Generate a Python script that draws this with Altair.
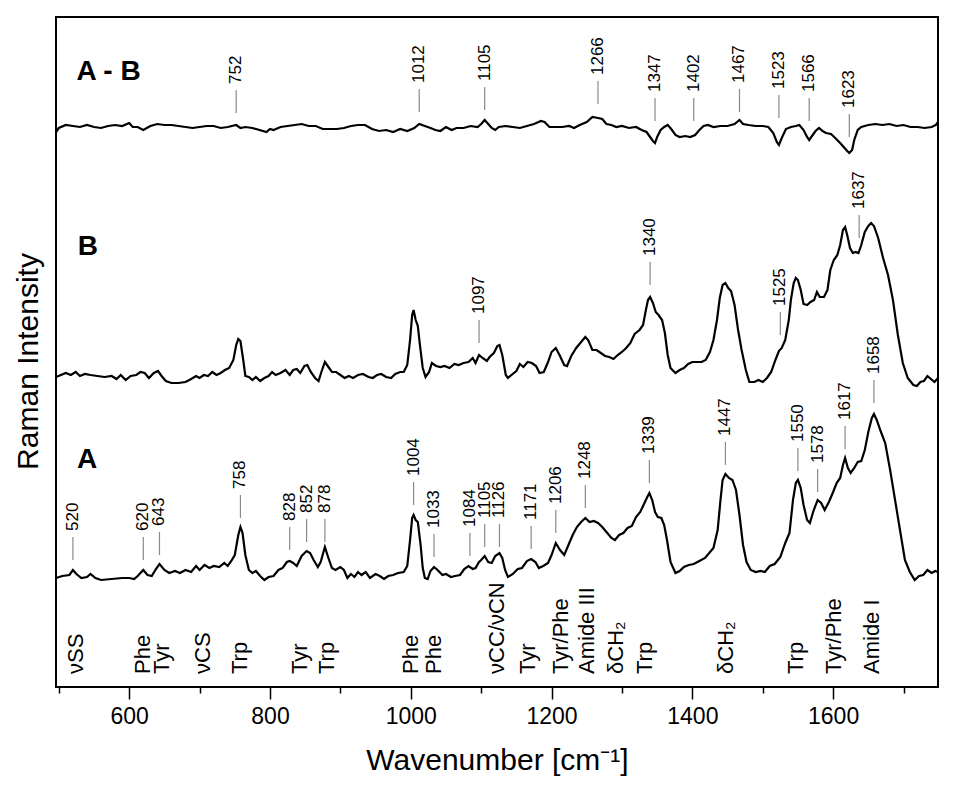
import altair as alt
import pandas as pd

# ---- spectra: (wavenumber cm-1, intensity above the trace's own baseline, a.u.) ----
spec_A = [
    (496, -1), (505, 1), (515, 2), (520, 7), (525, 3), (532, -1), (540, 0), (545, 3), (552, -1),
    (560, -3), (575, -2), (590, -1), (600, -1), (607, -2), (612, 1), (620, 7), (626, 2), (632, 1),
    (638, 8), (643, 13), (650, 7), (657, 4), (665, 6), (672, 4), (680, 7), (688, 5), (695, 11),
    (700, 7), (707, 12), (714, 9), (720, 11), (728, 10), (735, 14), (740, 11), (745, 16), (750, 22),
    (755, 42), (758, 50), (761, 44), (765, 22), (770, 7), (775, 4), (780, 6), (786, 1), (792, -3),
    (798, 0), (805, 1), (812, 7), (818, 9), (824, 15), (828, 16), (833, 14), (838, 11), (845, 21),
    (852, 26), (857, 24), (862, 17), (868, 10), (872, 15), (878, 30), (883, 19), (888, 9), (893, 7),
    (900, 10), (905, 7), (910, -1), (915, 3), (920, 0), (925, 5), (930, 2), (936, 5), (942, -1),
    (950, 3), (956, 1), (962, -2), (968, 1), (975, 2), (982, 4), (990, 5), (995, 11), (999, 37),
    (1002, 59), (1004, 62), (1007, 57), (1010, 55), (1014, 32), (1017, 9), (1020, -1), (1024, -2),
    (1028, 6), (1033, 10), (1038, 7), (1045, 2), (1050, 3), (1057, 0), (1063, 1), (1070, 2),
    (1076, 8), (1082, 11), (1088, 8), (1092, 9), (1097, 15), (1100, 17), (1105, 21), (1110, 15),
    (1115, 14), (1120, 21), (1126, 24), (1130, 19), (1134, 7), (1138, 0), (1145, 3), (1152, 8),
    (1158, 9), (1165, 16), (1171, 18), (1177, 15), (1182, 9), (1188, 11), (1195, 14), (1200, 22),
    (1206, 34), (1212, 27), (1218, 22), (1224, 32), (1230, 42), (1236, 50), (1242, 55), (1248, 59),
    (1254, 55), (1260, 56), (1266, 54), (1272, 50), (1278, 45), (1285, 39), (1290, 37), (1296, 42),
    (1302, 44), (1308, 49), (1314, 51), (1320, 60), (1326, 65), (1332, 74), (1336, 80), (1339, 84),
    (1343, 77), (1347, 65), (1351, 60), (1356, 59), (1360, 52), (1364, 37), (1369, 15), (1376, 4),
    (1382, 6), (1388, 10), (1395, 12), (1402, 13), (1410, 16), (1418, 19), (1424, 24), (1430, 29),
    (1436, 47), (1440, 77), (1443, 97), (1447, 103), (1452, 99), (1457, 97), (1462, 87), (1467, 62),
    (1472, 32), (1477, 15), (1483, 7), (1490, 5), (1497, 6), (1503, 5), (1510, 11), (1517, 13),
    (1525, 20), (1532, 34), (1538, 44), (1543, 77), (1547, 94), (1550, 97), (1554, 89), (1558, 72),
    (1563, 57), (1567, 54), (1572, 66), (1578, 77), (1583, 74), (1588, 67), (1594, 75), (1600, 85),
    (1605, 94), (1610, 99), (1614, 112), (1617, 119), (1621, 109), (1625, 104), (1630, 109),
    (1635, 115), (1640, 116), (1645, 127), (1650, 145), (1655, 159), (1658, 163), (1662, 157),
    (1668, 145), (1674, 134), (1681, 107), (1688, 77), (1695, 47), (1702, 17), (1709, 5), (1716, -3),
    (1722, 1), (1728, 2), (1734, 7), (1740, 4), (1745, 6), (1749, 5),
]

spec_B = [
    (496, 0), (503, 2), (510, 4), (517, 2), (524, 5), (530, 1), (537, 3), (545, 2), (555, 1),
    (565, 0), (575, 1), (582, -2), (588, 2), (595, -3), (602, 1), (610, 2), (616, 5), (622, 4),
    (628, -1), (635, 4), (641, 6), (646, 1), (652, -4), (660, -6), (670, -6), (680, -5), (688, -2),
    (695, 1), (700, -1), (706, 2), (712, 1), (718, 5), (724, 2), (730, 4), (736, 7), (742, 9),
    (748, 17), (752, 32), (755, 38), (758, 36), (762, 17), (765, 1), (770, 0), (775, -3), (780, 0),
    (786, -4), (792, -1), (798, 1), (803, 5), (808, 2), (815, 4), (822, 7), (828, 2), (833, 7),
    (838, 8), (843, 4), (849, 11), (853, 12), (858, 5), (864, -1), (869, -4), (873, 5), (878, 15),
    (882, 11), (888, 5), (894, 5), (900, 2), (906, -1), (912, 1), (918, -1), (925, 2), (932, 3),
    (940, 0), (946, -1), (952, 2), (958, 3), (965, 0), (972, -1), (978, 3), (985, 5), (990, 5),
    (995, 12), (999, 37), (1002, 62), (1004, 67), (1007, 57), (1010, 51), (1013, 32), (1017, 9),
    (1021, 0), (1026, 5), (1030, 14), (1036, 11), (1042, 10), (1048, 11), (1055, 9), (1062, 13),
    (1068, 12), (1075, 14), (1082, 15), (1088, 19), (1092, 14), (1097, 22), (1102, 19), (1108, 16),
    (1112, 20), (1118, 24), (1123, 31), (1126, 32), (1130, 22), (1135, 2), (1138, -1), (1143, 2),
    (1150, 6), (1155, 13), (1160, 10), (1166, 15), (1172, 14), (1178, 11), (1183, 4), (1189, 5),
    (1195, 15), (1200, 25), (1206, 29), (1212, 21), (1218, 12), (1222, 11), (1228, 21), (1235, 29),
    (1242, 35), (1248, 40), (1252, 37), (1258, 27), (1264, 27), (1270, 24), (1276, 21), (1282, 20),
    (1288, 18), (1294, 22), (1300, 25), (1306, 29), (1312, 34), (1318, 43), (1325, 47), (1330, 52),
    (1334, 67), (1337, 77), (1340, 80), (1344, 74), (1348, 65), (1352, 62), (1357, 57), (1361, 44),
    (1365, 22), (1369, 9), (1376, 4), (1382, 7), (1388, 9), (1394, 13), (1400, 15), (1407, 15),
    (1413, 15), (1419, 17), (1425, 25), (1430, 37), (1435, 57), (1439, 79), (1443, 92), (1447, 94),
    (1451, 89), (1455, 86), (1460, 72), (1465, 47), (1470, 27), (1476, 7), (1481, -5), (1488, -5),
    (1494, -3), (1500, -5), (1506, -1), (1512, 5), (1518, 17), (1523, 26), (1527, 29), (1532, 37),
    (1537, 57), (1540, 77), (1544, 94), (1547, 99), (1550, 97), (1554, 87), (1558, 73), (1563, 72),
    (1568, 75), (1573, 77), (1577, 85), (1581, 80), (1587, 80), (1592, 87), (1596, 107), (1601, 117),
    (1606, 122), (1610, 132), (1614, 147), (1617, 150), (1620, 142), (1624, 129), (1628, 124),
    (1632, 125), (1636, 124), (1640, 132), (1645, 145), (1650, 151), (1654, 154), (1658, 151),
    (1664, 139), (1671, 119), (1678, 102), (1685, 77), (1692, 42), (1699, 14), (1706, -1), (1714, -8),
    (1719, -9), (1724, -5), (1729, -4), (1734, 1), (1739, -2), (1744, -5), (1749, -1),
]

spec_D = [
    (496, -5), (500, -1), (510, 2), (520, 1), (530, 0), (540, 2), (550, 0), (560, -1), (570, 1),
    (580, 2), (590, 1), (600, 4), (605, 0), (612, 0), (620, -3), (630, 1), (640, 3), (650, 2),
    (660, 2), (670, 1), (680, 0), (690, -1), (700, 0), (710, 1), (720, 1), (730, -1), (740, 0),
    (752, 2), (758, -1), (765, 0), (775, -1), (785, -3), (795, -5), (800, -2), (805, -3), (815, 0),
    (825, 1), (835, 2), (845, 3), (855, 1), (865, 1), (875, -2), (885, -2), (895, -2), (905, -1),
    (915, 1), (925, 2), (935, 2), (945, -2), (955, -4), (965, -3), (975, -5), (985, -2), (995, -4),
    (1005, -1), (1012, 3), (1020, 1), (1028, -1), (1035, -3), (1042, -4), (1050, 0), (1058, -3),
    (1065, -1), (1075, -1), (1085, 1), (1095, 0), (1100, 3), (1105, 7), (1110, 3), (1115, -1),
    (1120, -3), (1125, 0), (1135, 1), (1145, 0), (1155, -1), (1165, 1), (1175, 3), (1185, 6),
    (1190, 5), (1197, 0), (1205, 0), (1215, 0), (1225, 1), (1232, -1), (1240, 2), (1250, 5),
    (1258, 10), (1266, 9), (1272, 8), (1278, 3), (1285, 2), (1292, 0), (1300, 1), (1310, -1),
    (1320, 0), (1328, -3), (1335, -5), (1340, -10), (1344, -14), (1347, -16), (1350, -10),
    (1355, -3), (1360, 0), (1365, 2), (1370, -2), (1376, -8), (1382, -10), (1390, -9), (1397, -10),
    (1404, -8), (1410, -3), (1416, 1), (1422, 2), (1430, 0), (1440, 1), (1450, 1), (1460, 3),
    (1467, 7), (1472, 3), (1480, 2), (1490, 1), (1500, 1), (1508, 0), (1515, -6), (1520, -15),
    (1523, -18), (1527, -11), (1533, -2), (1540, 0), (1547, 1), (1552, 2), (1558, -3), (1563, -10),
    (1566, -13), (1570, -9), (1575, -4), (1580, -1), (1585, -4), (1590, -6), (1597, -7), (1603, -11),
    (1610, -16), (1615, -20), (1620, -24), (1623, -26), (1627, -23), (1630, -13), (1635, -3),
    (1640, 0), (1650, 2), (1660, 3), (1670, 2), (1680, 3), (1690, 1), (1700, 2), (1710, 0),
    (1720, 0), (1730, -1), (1740, 0), (1746, 2), (1749, 5),
]

# vertical stacking offsets of the three spectra (a.u.)
trace_names = ["A", "B", "A - B"]
trace_offsets = [110, 310, 560]

# peak annotations: wavenumber and height of the marker foot above the trace baseline (a.u.)
peaks_A = [520, 620, 643, 758, 828, 852, 878, 1004, 1033, 1084, 1105, 1126, 1171, 1206, 1248,
           1339, 1447, 1550, 1578, 1617, 1658]
levels_A = [17, 17, 22, 59, 27, 35, 35, 72, 20, 21, 30, 30, 28, 44, 69, 94, 112, 106, 85, 128, 174]
peaks_B = [1097, 1340, 1525, 1637]
levels_B = [34, 92, 42, 139]
peaks_D = [752, 1012, 1105, 1266, 1347, 1402, 1467, 1523, 1566, 1623]
levels_D = [14, 15, 17, 23, 6, 6, 15, 9, 6, -10]

# band assignments along the bottom
band_names = ["νSS", "Phe", "Tyr", "νCS", "Trp", "Tyr", "Trp", "Phe", "Phe", "νCC/νCN", "Tyr",
              "Tyr/Phe", "Amide III", "δCH₂", "Trp", "δCH₂", "Trp", "Tyr/Phe", "Amide I"]
band_pos = [524, 620, 646, 705, 757, 843, 881, 1001, 1033, 1123, 1167, 1214, 1251, 1291, 1333,
            1448, 1547, 1601, 1655]

# panel names and their positions (wavenumber, a.u.)
panel_names = ["A - B", "B", "A"]
panel_x = [525, 527, 526]
panel_y = [607, 432, 219]

FONT = "Liberation Sans"
X_DOMAIN = [496, 1749]
Y_DOMAIN = [0, 670]
TICK_LEN = 23
TEXT_GAP = 6

# ---- tables ----
rows = []
for name, off, spec in zip(trace_names, trace_offsets, [spec_A, spec_B, spec_D]):
    for wn, val in spec:
        rows.append({"trace": name, "wn": wn, "val": val + off})
lines_df = pd.DataFrame(rows)

lab = []
for off, pk, lv in [(trace_offsets[0], peaks_A, levels_A),
                    (trace_offsets[1], peaks_B, levels_B),
                    (trace_offsets[2], peaks_D, levels_D)]:
    for p, l in zip(pk, lv):
        lab.append({"wn": p, "y0": off + l, "y1": off + l + TICK_LEN,
                    "yt": off + l + TICK_LEN + TEXT_GAP, "label": str(p)})
lab_df = pd.DataFrame(lab)

band_df = pd.DataFrame({"wn": band_pos, "label": band_names})
panel_df = pd.DataFrame({"wn": panel_x, "y": panel_y, "label": panel_names})

x_scale = alt.Scale(domain=X_DOMAIN, nice=False, zero=False)
y_scale = alt.Scale(domain=Y_DOMAIN, nice=False, zero=False)

x_axis = alt.Axis(
    values=list(range(500, 1800, 100)),
    labelExpr="datum.value % 200 == 0 ? datum.value : ''",
    tickSize={"condition": {"test": "datum.value % 200 == 0", "value": 12}, "value": 6},
    tickColor="black", tickWidth=1.5, domain=False, grid=False,
    labelFont=FONT, labelFontSize=23, labelColor="black", labelPadding=6,
    title="Wavenumber [cm⁻¹]", titleFont=FONT, titleFontSize=30, titleFontWeight="normal",
    titleColor="black", titleBaseline="alphabetic", titleY=82,
)
y_axis = alt.Axis(
    labels=False, ticks=False, domain=False, grid=False,
    title="Raman Intensity", titleFont=FONT, titleFontSize=30, titleFontWeight="normal",
    titleColor="black", titleAngle=270, titleBaseline="alphabetic", titleX=-19, titleY=344,
)

lines = alt.Chart(lines_df).mark_line(color="black", strokeWidth=2.2).encode(
    x=alt.X("wn:Q", scale=x_scale, axis=x_axis),
    y=alt.Y("val:Q", scale=y_scale, axis=y_axis),
    detail="trace:N",
    order="wn:Q",
)

ticks = alt.Chart(lab_df).mark_rule(color="#8a8a8a", strokeWidth=1.2).encode(
    x="wn:Q", y="y0:Q", y2="y1:Q",
)

peak_text = alt.Chart(lab_df).mark_text(
    angle=270, align="left", baseline="middle", font=FONT, fontSize=17, color="black",
).encode(x="wn:Q", y="yt:Q", text="label:N")

band_text = alt.Chart(band_df).mark_text(
    angle=270, align="left", baseline="middle", font=FONT, fontSize=22, color="black",
).encode(x="wn:Q", y=alt.value(657), text="label:N")

panel_text = alt.Chart(panel_df).mark_text(
    align="left", baseline="alphabetic", font=FONT, fontSize=28, fontWeight="bold", color="black",
).encode(x="wn:Q", y="y:Q", text="label:N")

chart = (
    alt.layer(lines, ticks, peak_text, band_text, panel_text)
    .properties(
        width=882, height=670,
        autosize=alt.AutoSizeParams(type="none"),
        padding={"left": 48, "top": 9, "right": 10, "bottom": 95},
        background="white",
    )
    .configure_view(stroke="black", strokeWidth=2)
)

chart.save("out.html", embed_options={"renderer": "svg", "actions": False})
